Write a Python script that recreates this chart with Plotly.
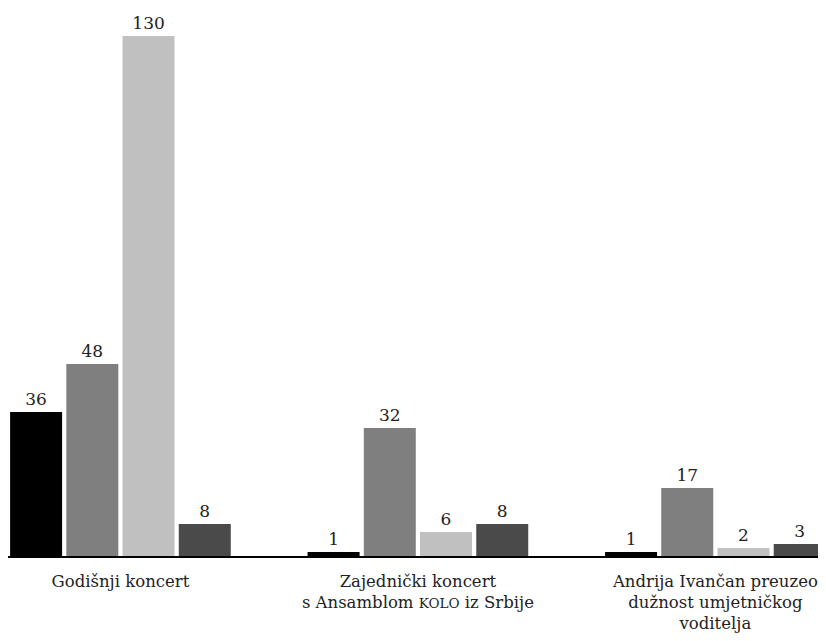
import plotly.graph_objects as go

categories = [
    "Godišnji koncert",
    "Zajednički koncert<br>s Ansamblom <span style='font-size:13.5px'>KOLO</span> iz Srbije",
    "Andrija Ivančan preuzeo<br>dužnost umjetničkog<br>voditelja",
]
series_names = ["Serija 1", "Serija 2", "Serija 3", "Serija 4"]
series_values = [
    [36, 1, 1],
    [48, 32, 17],
    [130, 6, 2],
    [8, 8, 3],
]
colors = ["#000000", "#7f7f7f", "#c0c0c0", "#4a4a4a"]

font_family = "DejaVu Serif"

fig = go.Figure()
for name, vals, col in zip(series_names, series_values, colors):
    fig.add_trace(go.Bar(
        x=list(range(len(categories))),
        y=vals,
        name=name,
        marker=dict(color=col, line=dict(width=0)),
        text=[str(v) for v in vals],
        textposition="outside",
        textfont=dict(family=font_family, size=17, color="#222222"),
        cliponaxis=False,
    ))

fig.update_layout(
    width=810, height=625,
    margin=dict(l=0, r=0, t=12, b=75),
    paper_bgcolor="white", plot_bgcolor="white",
    barmode="group", bargap=0.244, bargroupgap=0.075,
    showlegend=False,
    font=dict(family=font_family, size=17, color="#222222"),
)
fig.update_xaxes(
    range=[-0.378, 2.345],
    tickmode="array", tickvals=list(range(len(categories))), ticktext=categories,
    showline=True, linecolor="#000000", linewidth=1.5,
    showgrid=False, zeroline=False,
    ticks="outside", ticklen=9, tickcolor="rgba(0,0,0,0)",
    ticklabeloverflow="allow",
    tickfont=dict(family=font_family, size=16.5, color="#222222"),
)
fig.update_yaxes(range=[0, 134], visible=False, showgrid=False, zeroline=False)

fig.write_html("out.html")
